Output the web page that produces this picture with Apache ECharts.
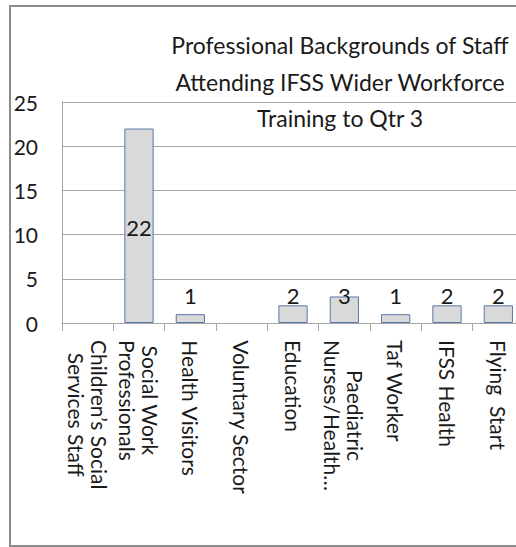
<!DOCTYPE html>
<html>
<head>
<meta charset="utf-8">
<script src="https://cdn.jsdelivr.net/npm/echarts@6/dist/echarts.min.js"></script>
<style>
  html, body { margin: 0; padding: 0; background: #ffffff; }
  #chart { width: 516px; height: 547px; }
</style>
</head>
<body>
<div id="chart"></div>
<script>
// ---- data ----
const categories = [
  'Children\u2019s Social\nServices Staff',
  'Social Work\nProfessionals',
  'Health Visitors',
  'Voluntary Sector',
  'Education',
  'Paediatric\nNurses/Health\u2026',
  'Taf Worker',
  'IFSS Health',
  'Flying  Start'
];
const values = [0, 22, 1, 0, 2, 3, 1, 2, 2];
const yTicks = { min: 0, max: 25, interval: 5 };
const titleLines = [
  'Professional Backgrounds of Staff',
  'Attending IFSS Wider Workforce',
  'Training to Qtr 3'
];

const FONT = 'Lato';
const GRID = '#a6a6a6';

const chart = echarts.init(document.getElementById('chart'), null, { renderer: 'svg' });

const seriesData = values.map(v => ({
  value: v,
  itemStyle: v === 0 ? { borderWidth: 0 } : {},
  label: v > 10
    ? { position: 'inside', offset: [0, 2] }
    : { position: 'insideBottom', offset: [0, -12] }
}));

chart.setOption({
  animation: false,
  backgroundColor: '#ffffff',
  graphic: [
    {
      type: 'polyline',
      shape: { points: [[620, 6], [10, 6], [10, 546], [620, 546]] },
      style: { fill: 'none', stroke: '#8c8c8c', lineWidth: 2 },
      z: -10
    },
    {
      type: 'text',
      x: 340,
      y: 27,
      style: {
        text: titleLines.join('\n'),
        fontFamily: FONT,
        fontSize: 23,
        lineHeight: 36.5,
        fill: '#1a1a1a',
        align: 'center',
        verticalAlign: 'top'
      },
      z: 10
    }
  ],
  grid: { left: 62, top: 102, width: 462, height: 221, containLabel: false, outerBoundsMode: 'none' },
  xAxis: {
    type: 'category',
    data: categories,
    axisLine: { show: true, lineStyle: { color: GRID, width: 1 } },
    axisTick: { show: true, length: 8, alignWithLabel: false, lineStyle: { color: GRID } },
    axisLabel: {
      interval: 0,
      rotate: -90,
      margin: 17,
      color: '#1a1a1a',
      fontFamily: FONT,
      fontSize: 21,
      lineHeight: 23,
      formatter: function (val) {
        return val.split('\n').map(s => '{c|' + s + '}').join('\n');
      },
      rich: { c: { align: 'center', fontFamily: FONT, fontSize: 21, lineHeight: 23, color: '#1a1a1a' } }
    }
  },
  yAxis: {
    type: 'value',
    min: yTicks.min,
    max: yTicks.max,
    interval: yTicks.interval,
    axisLine: { show: true, lineStyle: { color: GRID, width: 1 } },
    axisTick: { show: false },
    splitLine: { show: true, lineStyle: { color: GRID, width: 1 } },
    axisLabel: { margin: 24, color: '#1a1a1a', fontFamily: FONT, fontSize: 21 }
  },
  series: [{
    type: 'bar',
    data: seriesData,
    barWidth: '57%',
    itemStyle: { color: '#d9d9d9', borderColor: '#5878a8', borderWidth: 1 },
    label: {
      show: true,
      color: '#1a1a1a',
      fontFamily: FONT,
      fontSize: 22,
      formatter: p => (p.value ? String(p.value) : '')
    }
  }]
});
</script>
</body>
</html>
